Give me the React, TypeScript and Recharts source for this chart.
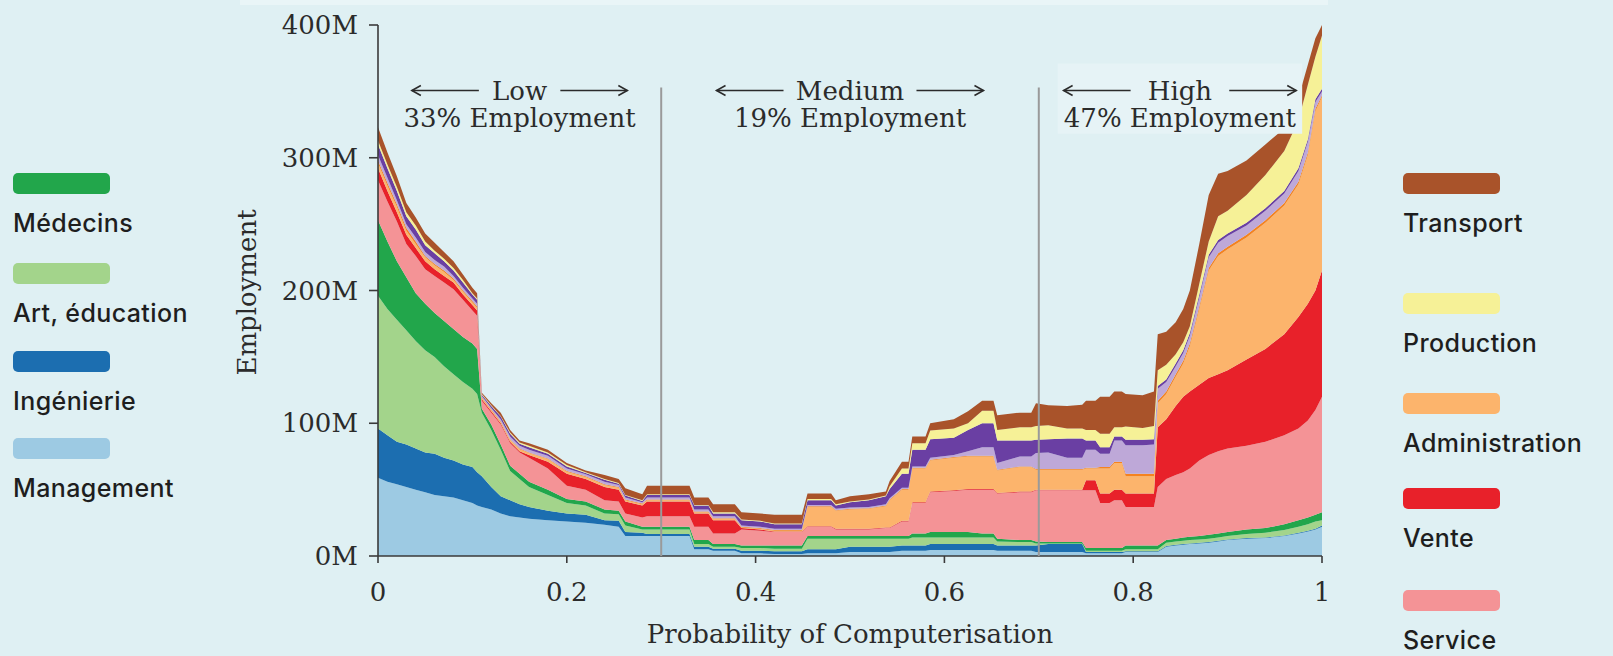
import React from 'react';
import { AreaChart, Area, XAxis, YAxis, ReferenceLine, ReferenceArea } from 'recharts';

// Probability of computerisation (x) and employment per occupation group (millions)
const X_VALUES = [
  0, 0.01, 0.02, 0.03, 0.04, 0.05, 0.06, 0.07, 0.08, 0.09, 0.1, 0.105,
  0.11, 0.12, 0.13, 0.14, 0.15, 0.16, 0.18, 0.2, 0.22, 0.24, 0.255, 0.262, 0.28, 0.285, 0.33, 0.335, 0.35, 0.355, 0.378, 0.385, 0.405, 0.42, 0.449,
  0.455, 0.48, 0.485, 0.5, 0.52, 0.538, 0.542, 0.555, 0.562, 0.566, 0.58, 0.585, 0.61, 0.625, 0.64, 0.652, 0.656, 0.68, 0.692, 0.697, 0.71, 0.73, 0.746, 0.75, 0.76, 0.765, 0.775, 0.78, 0.788, 0.792, 0.81, 0.822,
  0.826, 0.835, 0.845, 0.853, 0.86, 0.87, 0.88, 0.89, 0.9, 0.92, 0.94, 0.96, 0.975, 0.985, 0.993, 1,
];

const MANAGEMENT = [
  59, 56, 54, 52, 50, 48, 46, 45, 44, 42, 40, 38,
  37, 35, 32, 30, 29, 28, 27, 26, 25, 23.5, 22, 15, 15, 15, 15, 5, 5, 4, 4, 2, 2, 1.5, 1.5,
  2, 2, 2, 3, 3, 3, 3, 4, 4, 4, 4, 4.5, 4.5, 4.5, 4.5, 4.5, 4, 4, 4, 3, 3, 3, 3, 2, 2, 2, 2, 2, 2, 3, 3, 3,
  3, 7, 8, 8.5, 9, 9.5, 10, 11, 12, 13, 13.5, 15, 17, 18.5, 20, 22,
];
const ENGINEERING = [
  37, 35, 32, 32, 31, 30, 31, 29, 28, 27, 27, 25,
  23, 17, 13, 12, 10, 9, 7, 6, 6, 3.5, 4.5, 3, 2.5, 1.5, 1.5, 2, 2, 1.5, 1.5, 2, 2, 2, 2,
  3, 3, 3, 4, 4, 4, 4, 4, 4, 4, 4, 4.5, 4.5, 4.5, 4.5, 4.5, 4, 4, 4, 5, 6, 6, 6, 1, 1, 1, 1, 1, 1, 0.5, 0.5, 0.5,
  0.5, 0.5, 0.5, 0.5, 0.5, 0.5, 0.5, 0.5, 0.5, 0.5, 0.5, 0.5, 0.5, 0.5, 0.5, 1,
];
const EDUCATION = [
  100, 95, 92, 86, 81, 77, 73, 69, 65, 62, 59, 59,
  48, 43, 35, 22, 19, 15, 12, 8, 7, 5, 5, 5, 2.5, 3.5, 3.5, 2, 2, 1.5, 1.5, 2, 2, 2, 2,
  8, 8, 8, 6, 6, 6, 6, 5, 5, 6, 6, 5, 5, 5, 5, 5, 3, 2.5, 2.5, 1.5, 0.5, 0.5, 0.5, 1, 1, 1, 1, 1, 1, 1.5, 1.5, 1.5,
  1.5, 2.5, 2.5, 2.5, 2.5, 2.5, 2.5, 2.5, 2.5, 3, 3.5, 4, 4.5, 5, 5.5, 4,
];
const HEALTH = [
  57, 51, 44, 40, 36, 35, 33, 34, 34, 34, 34, 34,
  3, 4, 4, 4, 4, 4, 4, 3, 3, 3, 2.5, 3, 2, 2, 2, 3, 3, 2, 2, 2, 2, 2.5, 2.5,
  2, 2, 2, 2, 2, 2, 2, 2, 2, 3, 3, 4, 4, 4, 3, 3, 2, 1.5, 1.5, 1.5, 1, 1, 1, 2, 2, 2, 2, 2, 2, 3, 3, 3,
  3, 2, 2, 2.5, 2.5, 2.5, 3, 3, 3, 3.5, 3.5, 4.5, 5, 5, 5, 6,
];
const SERVICE = [
  30, 30, 30, 25, 28, 26, 28, 29, 30, 28, 25, 25,
  6, 9, 15, 17, 16, 18, 16, 10, 9, 7, 7, 6, 7, 8, 8, 10, 10, 8, 8, 12, 11, 10, 10,
  7, 7, 5, 5, 5, 6, 6, 11, 11, 23, 23, 30, 31, 32, 33, 33, 34, 36, 36, 38.5, 39, 39, 39, 43.5, 43.5, 34, 34, 36, 36, 29, 29, 29,
  44, 46, 48, 49, 51.5, 57, 60, 62, 63, 63, 65, 67, 69, 73, 79, 87,
];
const SALES = [
  9, 8, 7, 7, 6, 6, 5, 5, 5, 4, 4, 4,
  1, 1, 1, 1, 1, 2, 5, 9, 8, 10, 9, 9, 9, 11, 11, 10, 10, 10, 10, 1, 1, 0.5, 0.5,
  0.5, 0.5, 0.5, 0.5, 0.5, 0.5, 0.5, 0.5, 0.5, 0.5, 0.5, 0.5, 0.5, 0.5, 0.5, 0.5, 0.5, 0.5, 0.5, 0.5, 0.5, 0.5, 0.5, 7.5, 7.5, 7, 7, 8, 8, 10, 10, 10,
  45, 45, 52, 57, 58, 57, 58, 58, 59, 65, 70, 76, 84, 88, 90, 95,
];
const OFFICE = [
  4, 4, 4, 3, 3, 3, 3, 3, 2, 2, 2, 2,
  1, 1, 1, 1.5, 1.5, 1.5, 2, 1.5, 1.5, 1.5, 1.5, 1, 1, 1, 1, 1, 1, 1, 1, 0.5, 0.5, 0.5, 0.5,
  14.5, 14.5, 13.5, 14.5, 15, 16, 20.5, 23.5, 23.5, 25.5, 25.5, 23.5, 24.5, 24.5, 24.5, 24.5, 17, 18.5, 18.5, 15, 15, 15, 15, 9, 9, 19, 19, 20, 20, 13, 13, 13,
  18, 19, 22, 25, 34, 57, 81, 89, 91, 92, 95, 97, 100, 112, 135, 131,
];
const FARMING = [
  2, 2, 2, 2, 2, 1, 1, 1, 1, 1, 1, 1,
  0.5, 0.5, 0.5, 0.5, 0.5, 0.5, 0.5, 0.5, 0.5, 0.5, 0.5, 0.5, 0.5, 0.5, 0.5, 0.5, 0.5, 0.5, 0.5, 0.5, 0.5, 0.5, 0.5,
  0.5, 0.5, 0.5, 0.5, 0.5, 0.5, 0.5, 0.5, 0.5, 0.5, 0.5, 0.5, 0.5, 0.5, 0.5, 0.5, 0.5, 0.5, 0.5, 0.5, 0.5, 0.5, 0.5, 0.5, 0.5, 1, 1, 1, 1, 2, 2, 2,
  2, 2, 2, 2, 2, 2, 2, 2, 2, 2, 2, 2, 2, 2, 2, 1,
];
const CONSTRUCTION = [
  4, 4, 3, 3, 3, 3, 3, 3, 2, 2, 2, 2,
  1, 1, 1.5, 2, 2, 2, 2, 2, 1.5, 2, 1.5, 1.5, 1, 1.5, 1.5, 1.5, 1.5, 1.5, 1.5, 1, 1, 1, 1,
  1, 1, 1, 1, 1, 1, 1, 1, 1, 1, 1, 1.5, 1.5, 3.5, 6.5, 6.5, 5, 7.5, 7.5, 12, 12.5, 8.5, 8.5, 13.5, 13.5, 10, 10, 16, 16, 21.5, 21.5, 22,
  9, 7, 6, 6, 6, 7, 8, 8, 8, 7, 7, 7, 8, 8, 5, 3,
];
const INSTALLATION = [
  8, 7, 7, 6, 6, 5, 5, 4, 4, 4, 3, 3,
  1, 1.5, 2, 2, 1.5, 2, 1.5, 1.5, 1, 1.5, 1, 1.5, 1, 2, 2, 3, 3, 2, 2, 4, 4, 3.5, 3.5,
  3.5, 3.5, 2.5, 4, 5, 6, 7, 10.5, 10.5, 12.5, 12.5, 14, 13, 16, 18, 18, 17, 12, 12, 10, 10, 14.5, 14.5, 7, 7, 5, 5, 3, 3, 4, 4, 4,
  2, 2, 2, 2, 2, 2, 2, 2, 2, 2, 2, 2, 2, 2, 2, 2,
];
const PRODUCTION = [
  3, 3, 3, 3, 3, 3, 2, 2, 2, 2, 1, 1,
  0.5, 0.5, 0.5, 1, 1, 1, 1, 1, 0.5, 0.5, 0.5, 0.5, 0.5, 0.5, 0.5, 0.5, 0.5, 1, 1, 0.5, 0.5, 0.5, 0.5,
  1, 1, 1, 0.5, 0.5, 0.5, 2, 4, 4, 5, 5, 6.5, 7, 5, 9.5, 9.5, 8, 10, 10, 10.5, 10.5, 7.5, 7.5, 8, 8, 10, 10, 7, 7, 10, 9, 10,
  12, 11, 7, 6, 5, 8, 10, 18, 17, 21, 25, 30, 36, 41, 32, 40,
];
const TRANSPORT = [
  10, 9, 8, 7, 6, 6, 6, 5, 5, 4, 4, 4,
  1, 1.5, 2.5, 2, 1.5, 2, 2, 1.5, 1.5, 3, 3, 5, 4.5, 6.5, 6.5, 5.5, 5.5, 6, 6, 5.5, 5.5, 6.5, 6.5,
  4, 4, 3, 4, 4, 3, 4, 5, 5, 5, 5, 5.5, 7, 9, 7.5, 7.5, 11, 11, 11, 17, 15, 17, 18, 22, 22, 28, 28, 27, 27, 24.5, 24.5, 26,
  27, 25, 24, 25, 27, 30, 35, 32, 30, 26, 23, 17, 17, 15, 14, 8,
];

const X_TICKS = [0, 0.2, 0.4, 0.6, 0.8, 1];
const Y_TICKS = [0, 100, 200, 300, 400];

const REGIONS = [
  { x1: 0, x2: 0.3, title: 'Low', share: '33% Employment', boxed: false },
  { x1: 0.3, x2: 0.7, title: 'Medium', share: '19% Employment', boxed: false },
  { x1: 0.72, x2: 0.979, title: 'High', share: '47% Employment', boxed: true },
];
const REGION_Y = [318, 371];
const DIVIDERS = [0.3, 0.7];
const DIVIDER_TOP = 353;

const SERIES = [
  { key: 'management', name: 'Management', color: '#9dcae3', values: MANAGEMENT },
  { key: 'engineering', name: 'Ingénierie', color: '#1c6eb0', values: ENGINEERING },
  { key: 'education', name: 'Art, éducation', color: '#a3d48b', values: EDUCATION },
  { key: 'health', name: 'Médecins', color: '#22a64b', values: HEALTH },
  { key: 'service', name: 'Service', color: '#f49396', values: SERVICE },
  { key: 'sales', name: 'Vente', color: '#e8212a', values: SALES },
  { key: 'office', name: 'Administration', color: '#fcb46c', values: OFFICE },
  { key: 'farming', name: 'Farming', color: '#f5821f', values: FARMING },
  { key: 'construction', name: 'Construction', color: '#bea8d8', values: CONSTRUCTION },
  { key: 'installation', name: 'Installation', color: '#6a3fa3', values: INSTALLATION },
  { key: 'production', name: 'Production', color: '#f6f197', values: PRODUCTION },
  { key: 'transport', name: 'Transport', color: '#a9532a', values: TRANSPORT },
];

const LEFT_LEGEND = ['Médecins', 'Art, éducation', 'Ingénierie', 'Management'];
const RIGHT_LEGEND = ['Transport', 'Production', 'Administration', 'Vente', 'Service'];

const rows = X_VALUES.map((x, i) => {
  const r: Record<string, number> = { x };
  SERIES.forEach((s) => { r[s.key] = s.values[i]; });
  return r;
});

const BG = '#dff0f3';
const SERIF = '"DejaVu Serif", "Liberation Serif", serif';
const INK = '#2b2b2b';
const FS = 26;

const colorOf = (name: string) => SERIES.find((s) => s.name === name)!.color;

const RegionLabel = (props: any) => {
  const { viewBox, title, share } = props;
  if (!viewBox) return null;
  const { x, y, width } = viewBox;
  const cx = x + width / 2;
  const half = title.length * FS * 0.33;
  const ay = y + 27;
  const lOut = cx - half - 82, lIn = cx - half - 15;
  const rIn = cx + half + 15, rOut = cx + half + 82;
  return (
    <g>
      <line x1={lOut} y1={ay} x2={lIn} y2={ay} stroke={INK} strokeWidth={1.6} />
      <path d={`M${lOut + 9} ${ay - 5} L${lOut} ${ay} L${lOut + 9} ${ay + 5}`} stroke={INK} strokeWidth={1.6} fill="none" />
      <line x1={rIn} y1={ay} x2={rOut} y2={ay} stroke={INK} strokeWidth={1.6} />
      <path d={`M${rOut - 9} ${ay - 5} L${rOut} ${ay} L${rOut - 9} ${ay + 5}`} stroke={INK} strokeWidth={1.6} fill="none" />
      <text x={cx} y={y + 36.5} textAnchor="middle" fontFamily={SERIF} fontSize={FS} fill={INK}>{title}</text>
      <text x={cx} y={y + 63.5} textAnchor="middle" fontFamily={SERIF} fontSize={FS} fill={INK}>{share}</text>
    </g>
  );
};

const LegendItem = ({ name, top, left }: { name: string; top: number; left: number }) => (
  <div style={{ position: 'absolute', top, left }}>
    <div style={{ width: 97, height: 21, borderRadius: 5, background: colorOf(name) }} />
    <div style={{ position: 'absolute', top: 32, left: 0, height: 36, lineHeight: '36px', whiteSpace: 'nowrap', fontFamily: 'Inter, "Open Sans", sans-serif', fontWeight: 500, fontSize: 25, letterSpacing: 0.4, color: '#1e1e1e' }}>{name}</div>
  </div>
);

export default function App() {
  const leftTops = [173, 263, 351, 438];
  const rightTops = [173, 293, 393, 488, 590];
  return (
    <div style={{ position: 'absolute', left: 0, top: 0, width: 1613, height: 656, background: BG, overflow: 'hidden' }}>
      <div style={{ position: 'absolute', left: 240, top: 0, width: 1088, height: 5, background: '#e9f5f7' }} />
      <AreaChart width={1613} height={656} data={rows} margin={{ top: 25, right: 291, bottom: 40, left: 278 }}>
        <XAxis
          type="number"
          dataKey="x"
          domain={[0, 1]}
          ticks={X_TICKS}
          tickFormatter={(v: number) => String(v)}
          height={60}
          tickSize={7}
          tickMargin={20}
          axisLine={{ stroke: '#3a3a3a', strokeWidth: 1.6 }}
          tickLine={{ stroke: '#3a3a3a', strokeWidth: 1.6 }}
          tick={{ fontFamily: SERIF, fontSize: FS, fill: INK }}
          label={{
            content: (p: any) => {
              const vb = p.viewBox || { x: 378, y: 556, width: 944 };
              return (
                <text x={vb.x + vb.width / 2} y={vb.y + 87} textAnchor="middle" fontFamily={SERIF} fontSize={FS} fill={INK}>
                  Probability of Computerisation
                </text>
              );
            },
          }}
        />
        <YAxis
          type="number"
          domain={[0, 400]}
          ticks={Y_TICKS}
          tickFormatter={(v: number) => `${v}M`}
          width={100}
          tickSize={9}
          tickMargin={11}
          axisLine={{ stroke: '#3a3a3a', strokeWidth: 1.6 }}
          tickLine={{ stroke: '#3a3a3a', strokeWidth: 1.6 }}
          tick={{ fontFamily: SERIF, fontSize: FS, fill: INK }}
          label={{
            content: (p: any) => {
              const vb = p.viewBox || { x: 278, y: 25, width: 100, height: 531 };
              const cx = vb.x - 31;
              const cy = vb.y + vb.height / 2 + 2;
              return (
                <text x={cx} y={cy} transform={`rotate(-90 ${cx} ${cy})`} textAnchor="middle" dominantBaseline="central" fontFamily={SERIF} fontSize={FS} fill={INK}>
                  Employment
                </text>
              );
            },
          }}
        />
        {SERIES.map((s) => (
          <Area
            key={s.key}
            type="linear"
            dataKey={s.key}
            name={s.name}
            stackId="jobs"
            stroke="none"
            fill={s.color}
            fillOpacity={1}
            isAnimationActive={false}
            dot={false}
            activeDot={false}
          />
        ))}
        {DIVIDERS.map((d) => (
          <ReferenceLine
            key={d}
            segment={[{ x: d, y: 0 }, { x: d, y: DIVIDER_TOP }]}
            stroke="#9a9a9a"
            strokeWidth={2}
            zIndex={1500}
          />
        ))}
        {REGIONS.map((r) => (
          <ReferenceArea
            key={r.title}
            x1={r.x1}
            x2={r.x2}
            y1={REGION_Y[0]}
            y2={REGION_Y[1]}
            fill={r.boxed ? '#e6f3f6' : 'none'}
            fillOpacity={r.boxed ? 1 : 0}
            stroke="none"
            zIndex={1600}
            label={(p: any) => <RegionLabel {...p} title={r.title} share={r.share} />}
          />
        ))}
      </AreaChart>
      {LEFT_LEGEND.map((n, i) => (
        <LegendItem key={n} name={n} top={leftTops[i]} left={13} />
      ))}
      {RIGHT_LEGEND.map((n, i) => (
        <LegendItem key={n} name={n} top={rightTops[i]} left={1403} />
      ))}
    </div>
  );
}
